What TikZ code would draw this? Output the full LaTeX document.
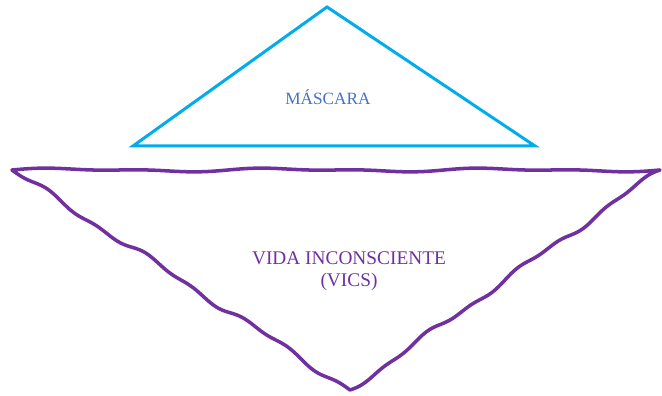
\documentclass[tikz,border=0pt]{standalone}
\usepackage{fontspec}
\setmainfont{Liberation Serif}
\definecolor{celeste}{RGB}{0,172,236}
\definecolor{azul}{RGB}{68,114,196}
\definecolor{morado}{RGB}{112,48,160}

\begin{document}
\begin{tikzpicture}
        \useasboundingbox (0,0) rectangle (13.24,7.92);
        % triangulo de la mascara
        \draw[celeste, line width=1.7pt, line join=miter] (2.66,5.0) -- (6.54,7.78) -- (10.70,5.0) -- cycle;
        \node[azul, font=\fontsize{9.8}{12}\selectfont] (mascara) at (6.56,5.98) {MÁSCARA};

        % parte sumergida
        \def\topedge{{0.24+12.96*\x},{4.52+0.025*sin(1080*\x)+0.018*sin(2160*\x)}}
        \def\rightedge{{13.20-6.20*\x},{4.52-4.40*\x+0.05*sin(1080*\x)+0.03*sin(2520*\x)}}
        \def\leftedge{{7.00-6.76*\x},{0.12+4.40*\x-0.05*sin(1080*\x)+0.035*sin(2520*\x)}}
        \draw[morado, line width=2pt, line join=round, line cap=round]
            plot[domain=0:1, samples=100, smooth] (\topedge)
            -- plot[domain=0:1, samples=70, smooth] (\rightedge)
            -- plot[domain=0:1, samples=70, smooth] (\leftedge) -- cycle;
        \node[morado, align=center, font=\fontsize{11}{12.5}\selectfont] (vida) at (6.98,2.50) {VIDA INCONSCIENTE\\(VICS)};
\end{tikzpicture}
\end{document}
